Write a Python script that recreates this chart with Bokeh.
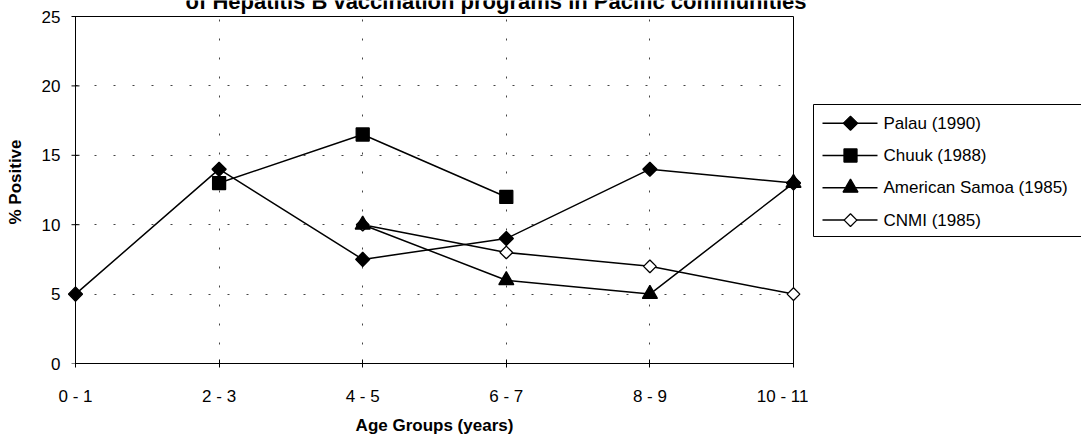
import numpy as np
from bokeh.plotting import figure
from bokeh.models import ColumnDataSource, Range1d, FixedTicker
from bokeh.layouts import row
from bokeh.embed import file_html
from bokeh.resources import INLINE
from bokeh.core.properties import value

# ---------------- data ----------------
age_groups = ["0 - 1", "2 - 3", "4 - 5", "6 - 7", "8 - 9", "10 - 11"]
palau = [5, 14, 7.5, 9, 14, 13]
chuuk = [None, 13, 16.5, 12, None, None]
american_samoa = [None, None, 10, 6, 5, 13]
cnmi = [None, None, 10, 8, 7, 5]
y_ticks = [0, 5, 10, 15, 20, 25]
series_names = ["Palau (1990)", "Chuuk (1988)", "American Samoa (1985)", "CNMI (1985)"]
title_text = "of Hepatitis B vaccination programs in Pacific communities"
x_title = "Age Groups (years)"
y_title = "% Positive"

FONT = "Liberation Sans"


def arr(v):
    return [np.nan if a is None else a for a in v]


xs = list(range(len(age_groups)))
x0, x1 = xs[0], xs[-1]
y0, y1 = y_ticks[0], y_ticks[-1]

# ---------------- geometry (pixels) ----------------
H = 439
W1 = 808
W2 = 273
AX_LEFT = 75      # x of first category
AX_RIGHT = 793    # x of last category
AX_TOP = 16       # y of top value
AX_BOTTOM = 363   # y of zero
PADX = 14
ppx = (AX_RIGHT - AX_LEFT) / (x1 - x0)
ppy = (AX_BOTTOM - AX_TOP) / (y1 - y0)

p = figure(width=W1, height=H, output_backend="svg", toolbar_location=None,
           x_range=Range1d(x0 - PADX / ppx, x1 + PADX / ppx),
           y_range=Range1d(y0, y0 + AX_BOTTOM / ppy),
           min_border_left=AX_LEFT - PADX, min_border_right=W1 - (AX_RIGHT + PADX),
           min_border_top=0, min_border_bottom=H - AX_BOTTOM)
p.background_fill_color = "white"
p.border_fill_color = "white"
p.outline_line_color = None


def cx(px):
    return x0 + (px - AX_LEFT) / ppx


def cy(py):
    return y0 + (AX_BOTTOM - py) / ppy


# axes
p.xaxis.ticker = FixedTicker(ticks=xs)
p.xaxis.major_label_overrides = {i: lab for i, lab in enumerate(age_groups)}
p.yaxis.ticker = FixedTicker(ticks=y_ticks)
p.xaxis.bounds = (x0, x1)
p.yaxis.bounds = (y0, y1)
for ax in (p.xaxis[0], p.yaxis[0]):
    ax.minor_tick_line_color = None
    ax.major_label_text_font = FONT
    ax.major_label_text_font_size = "17px"
    ax.major_label_text_color = "black"
    ax.axis_label_text_font = FONT
    ax.axis_label_text_font_size = "17px"
    ax.axis_label_text_font_style = "bold"
    ax.axis_label_text_color = "black"
p.xaxis.axis_line_color = "black"
p.xaxis.major_tick_line_color = "black"
p.xaxis.major_tick_in = 4
p.xaxis.major_tick_out = 4
p.xaxis.major_label_standoff = 19
p.xaxis.axis_label = x_title
p.xaxis.axis_label_standoff = 7

# y axis drawn at the first category (frame is padded so edge markers are not cut)
p.yaxis.axis_line_color = None
p.yaxis.major_tick_line_color = None
p.yaxis.major_tick_in = 0
p.yaxis.major_tick_out = 0
p.yaxis.major_label_standoff = 1
p.yaxis.axis_label = y_title
p.yaxis.axis_label_standoff = 14

# grid
p.xgrid.ticker = FixedTicker(ticks=xs[1:-1])
p.ygrid.ticker = FixedTicker(ticks=y_ticks[1:-1])
for g in (p.xgrid[0], p.ygrid[0]):
    g.grid_line_color = "#444444"
    g.grid_line_width = 1
    g.grid_line_dash = "2 17"
try:
    p.ygrid[0].cross_bounds = (x0, x1)
    p.xgrid[0].cross_bounds = (y0, y1)
except Exception:
    pass

# left axis line, top and right border of the plot area, crossing y ticks
p.line(x=[x0, x0, x1, x1], y=[y0, y1, y1, y0], line_color="black", line_width=1)
p.scatter(x=[x0] * len(y_ticks), y=y_ticks, marker="dash", size=8, line_color="black", line_width=1)

# series
series = [
    (series_names[0], arr(palau), dict(marker="square", angle=np.pi / 4, size=10, fill_color="black")),
    (series_names[1], arr(chuuk), dict(marker="square", size=13, fill_color="black")),
    (series_names[2], arr(american_samoa), dict(marker="triangle", size=15, fill_color="black")),
    (series_names[3], arr(cnmi), dict(marker="square", angle=np.pi / 4, size=9, fill_color="white")),
]

draw_order = [3, 0, 1, 2]
srcs = {i: ColumnDataSource(dict(x=xs, y=series[i][1])) for i in range(4)}
for idx in draw_order:
    p.line("x", "y", source=srcs[idx], line_color="black", line_width=1.5)
for idx in draw_order:
    p.scatter("x", "y", source=srcs[idx], line_color="black", line_width=1.3, **series[idx][2])

# chart title (its top is cut off by the page edge, as in the reference)
p.text(x=[cx(185)], y=[cy(1.0)], text=[title_text], text_font=value(FONT), text_font_size="22px",
       text_font_style="bold", text_color="black", text_baseline="alphabetic", text_align="left")

# ---------------- legend panel (same vertical frame as the chart) ----------------
q = figure(width=W2, height=H, output_backend="svg", toolbar_location=None,
           x_range=Range1d(0, W2), y_range=Range1d(AX_BOTTOM, 0),
           min_border_left=0, min_border_right=0, min_border_top=0,
           min_border_bottom=H - AX_BOTTOM)
q.axis.visible = False
q.grid.visible = False
q.outline_line_color = None
q.background_fill_color = "white"
q.border_fill_color = "white"

q.quad(left=5, right=W2 + 20, top=104, bottom=236, fill_color="white", line_color="black", line_width=1)
row_y = [122.7 + 32.3 * i for i in range(4)]
for i in range(4):
    q.line(x=[14, 69], y=[row_y[i], row_y[i]], line_color="black", line_width=1.5)
    q.scatter(x=[42], y=[row_y[i]], line_color="black", line_width=1.3, **series[i][2])
q.text(x=[75] * 4, y=row_y, text=series_names, text_font=value(FONT), text_font_size="17px",
       text_color="black", text_baseline="middle", text_align="left")

layout = row(p, q, spacing=0)
open("out.html", "w").write(file_html(layout, INLINE))
